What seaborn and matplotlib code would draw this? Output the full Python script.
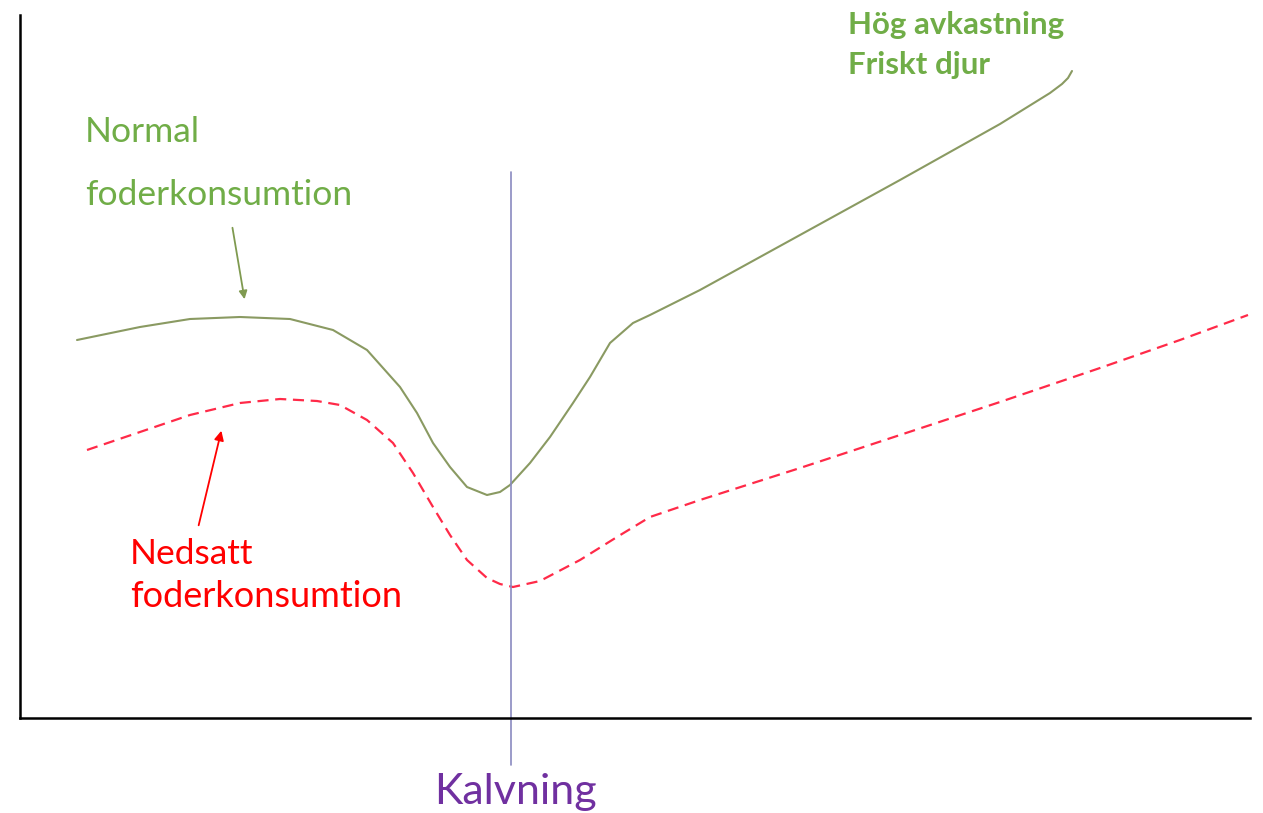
import matplotlib
matplotlib.use("Agg")
import pandas as pd
import matplotlib.pyplot as plt
import seaborn as sns

# Normal feed intake curve (time, intake)
normal_x = [57, 120, 170, 220, 270, 313, 347, 380, 397, 413, 430, 447, 467, 480, 490, 510,
            530, 553, 570, 590, 613, 630, 680, 780, 880, 930, 980, 1030, 1042, 1048, 1052]
normal_y = [378, 391, 399, 401, 399, 388, 368, 331, 305, 275, 251, 231, 223, 226, 233, 255,
            281, 315, 341, 375, 395, 403, 428, 483, 538, 566, 594, 625, 634, 640, 647]

# Reduced feed intake curve
reduced_x = [67, 120, 170, 220, 260, 297, 320, 347, 373, 393, 413, 430, 447, 467, 480, 493,
             520, 560, 597, 630, 680, 780, 880, 980, 1080, 1160, 1228]
reduced_y = [268, 286, 303, 315, 319, 317, 313, 298, 275, 245, 211, 183, 158, 140, 134, 131,
             137, 158, 181, 201, 218, 250, 283, 316, 350, 378, 403]

calving_x = 491

df_normal = pd.DataFrame({'t': normal_x, 'v': normal_y})
df_reduced = pd.DataFrame({'t': reduced_x, 'v': reduced_y})

sns.set_style("white")
plt.rcParams['font.family'] = ['Lato', 'DejaVu Sans']

fig = plt.figure(figsize=(12.63, 8.13), dpi=100)
ax = fig.add_axes([20 / 1263, 95 / 813, 1230 / 1263, 703 / 813])

sns.lineplot(data=df_normal, x='t', y='v', sort=False, color='#8a9a62', linewidth=1.5, ax=ax)
sns.lineplot(data=df_reduced, x='t', y='v', sort=False, color='#ff2a48', linewidth=1.6, ax=ax)
ax.lines[-1].set_linestyle((0, (5, 3)))

# calving line, goes a bit below the x axis
ax.plot([calving_x, calving_x], [-47, 546], color='#8a8ac0', linewidth=1.2, clip_on=False)

ax.set_xlim(0, 1230)
ax.set_ylim(0, 703)
ax.set_xticks([])
ax.set_yticks([])
ax.set_xlabel('')
ax.set_ylabel('')
sns.despine(ax=ax)
for s in ['left', 'bottom']:
    ax.spines[s].set_color('black')
    ax.spines[s].set_linewidth(1.8)

green = '#70ad47'
ax.text(65, 576, 'Normal', color=green, fontsize=25.5, va='baseline')
ax.text(65, 513, 'foderkonsumtion', color=green, fontsize=25.5, va='baseline')
ax.text(110, 154, 'Nedsatt', color='#ff0000', fontsize=25.5, va='baseline')
ax.text(110, 111, 'foderkonsumtion', color='#ff0000', fontsize=26, va='baseline')
ax.text(828, 684, 'Hög avkastning', color=green, fontsize=22.5, fontweight='bold', va='baseline')
ax.text(828, 644, 'Friskt djur', color=green, fontsize=22.5, fontweight='bold', va='baseline')
ax.text(495, -86, 'Kalvning', color='#7030a0', fontsize=31, ha='center', va='baseline')

ax.annotate('', xy=(225, 416), xytext=(212, 493),
            arrowprops=dict(arrowstyle='-|>', color='#7f9a50', lw=1.3, mutation_scale=12))
ax.annotate('', xy=(202, 290), xytext=(178, 190),
            arrowprops=dict(arrowstyle='-|>', color='#ff0000', lw=1.3, mutation_scale=14))

fig.savefig('out.png', dpi=100)
